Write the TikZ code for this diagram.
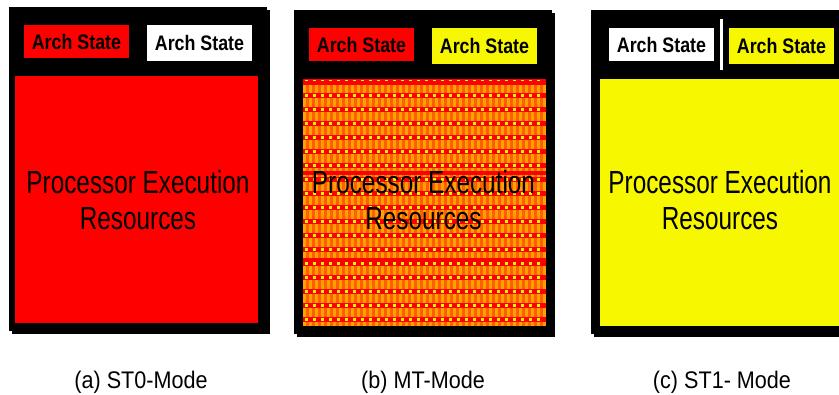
\documentclass[tikz,border=0pt]{standalone}
\usepackage{fontspec}
\setmainfont{Liberation Sans}
\newfontfamily\coretext[FakeStretch=0.76]{Liberation Sans}
\newfontfamily\archtext[FakeStretch=0.85]{Liberation Sans}
\newfontfamily\captext[FakeStretch=0.9]{Liberation Sans}
\definecolor{archred}{RGB}{255,0,0}
\definecolor{archyellow}{RGB}{247,247,0}
\definecolor{mixorange}{RGB}{255,95,0}
\definecolor{mixlight}{RGB}{255,160,0}

\tikzset{
  frame/.style={fill=black, inner sep=0pt, minimum width=258, minimum height=324},
  arch/.style={inner sep=0pt, minimum width=105, font=\archtext\fontsize{21}{21}\selectfont\bfseries},
  core/.style={inner sep=0pt, minimum width=243, minimum height=247},
  coretxt/.style={align=center, inner sep=0pt, font=\coretext\fontsize{32}{36}\selectfont},
  caption/.style={font=\captext\fontsize{24}{24}\selectfont}
}

\begin{document}
\begin{tikzpicture}[x=1pt,y=-1pt]
\clip (0,0) rectangle (839,395);
\fill[white] (0,0) rectangle (839,395);
% the three black frames with their shadows
\foreach \name/\x/\y in {fa/138/169.5, fb/423/172, fc/720/172}{
  \fill ([shift={(\x+3,\y+3)}]-129,-162) rectangle +(258,324);
  \node[frame] (\name) at (\x,\y) {};
}
% (a) ST0-Mode
\node[arch, fill=archred, minimum height=33] (aa1) at (76.5,41.5) {Arch State};
\node[arch, fill=white, minimum height=36] (aa2) at (199.5,43) {Arch State};
\node[core, fill=archred] (ca) at (136.5,199.5) {};
\node[coretxt] (ta) at (138,200) {Processor Execution\\Resources};
% (b) MT-Mode, the mixed fill
\node[core, fill=mixorange] (cb) at (424.5,202.5) {};
\foreach \x in {303,309,...,543}
  \fill[mixlight] (\x,79) rectangle +(3,247);
\foreach \y in {79,93,...,319}{
  \fill[archred] (303,\y) rectangle (546,\y+5);
  \foreach \x in {305,313,...,543}
    \fill[archyellow] (\x,\y+1) rectangle +(3,3);
}
\foreach \y in {81,171,258}
  \fill[archred] (303,\y) rectangle (546,\y+4);
\node[arch, fill=archred, minimum height=33] (ab1) at (361.5,44.5) {Arch State};
\node[arch, fill=archyellow, minimum height=36] (ab2) at (484.5,46) {Arch State};
\node[coretxt] (tb) at (423.5,200) {Processor Execution\\Resources};
% (c) ST1- Mode
\node[arch, fill=white, minimum height=33] (ac1) at (661.5,44.5) {Arch State};
\node[arch, fill=archyellow, minimum height=36] (ac2) at (781.5,46) {Arch State};
\coordinate (sep1) at (721.5,19);
\coordinate (sep2) at (721.5,70);
\draw[white, line width=3] (sep1) -- (sep2);
\node[core, fill=archyellow] (cc) at (721.5,202.5) {};
\node[coretxt] (tc) at (720,200) {Processor Execution\\Resources};
% the captions
\node[caption] (capa) at (141,382) {(a) ST0-Mode};
\node[caption] (capb) at (423,382) {(b) MT-Mode};
\node[caption] (capc) at (722,382) {(c) ST1- Mode};
\end{tikzpicture}
\end{document}
